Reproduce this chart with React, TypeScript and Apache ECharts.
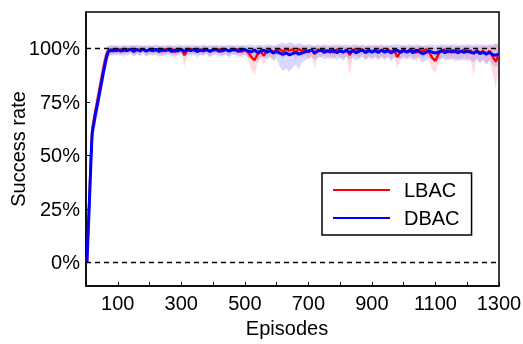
import React, { useEffect, useRef } from "react";
import * as echarts from "echarts";

const episodes = [
  3, 6, 9, 12, 15, 18, 20, 25, 30, 35, 40, 45, 50, 55, 60, 65, 70, 75, 80, 85, 90, 95, 100,
  110, 120, 130, 140, 150, 160, 170, 180, 190, 200,
  210, 220, 230, 240, 250, 260, 270, 280, 290, 300,
  310, 320, 330, 340, 350, 360, 370, 380, 390, 400,
  410, 420, 430, 440, 450, 460, 470, 480, 490, 500,
  510, 520, 530, 540, 550, 560, 570, 580, 590, 600,
  610, 620, 630, 640, 650, 660, 670, 680, 690, 700,
  710, 720, 730, 740, 750, 760, 770, 780, 790, 800,
  810, 820, 830, 840, 850, 860, 870, 880, 890, 900,
  910, 920, 930, 940, 950, 960, 970, 980, 990, 1000,
  1010, 1020, 1030, 1040, 1050, 1060, 1070, 1080, 1090, 1100,
  1110, 1120, 1130, 1140, 1150, 1160, 1170, 1180, 1190, 1200,
  1210, 1220, 1230, 1240, 1250, 1260, 1270, 1280, 1290, 1300,
];

const lbacMean = [
  0, 12, 24, 36, 48, 58, 63, 67, 71, 75, 79, 83, 87, 91, 94.5, 97.5, 99.0, 99.5, 98.8, 99.6, 99.0, 99.6, 99.1,
  99.6, 98.7, 99.5, 99.8, 98.9, 99.6, 99.2, 99.7, 98.8, 99.5,
  99.7, 98.9, 99.6, 98.6, 99.7, 99.1, 99.6, 98.3, 99.5, 99.7,
  96.8, 99.4, 99.7, 98.9, 99.6, 99.0, 99.7, 99.4, 98.7, 99.6,
  99.2, 99.7, 98.6, 99.5, 98.9, 99.7, 99.1, 99.6, 98.4, 99.4,
  98.2, 96.0, 94.5, 97.2, 98.5, 96.6, 99.0, 99.4, 98.2, 99.5,
  99.6, 98.5, 99.7, 98.9, 99.6, 98.2, 99.7, 98.8, 99.5, 98.2,
  99.4, 97.3, 99.6, 98.8, 99.7, 98.4, 99.5, 98.0, 99.6, 98.8,
  98.1, 99.6, 96.9, 99.3, 99.7, 98.6, 99.6, 98.3, 99.5, 98.5,
  99.6, 98.5, 99.4, 98.1, 99.6, 98.4, 99.3, 96.0, 98.7, 99.5,
  98.3, 99.6, 98.8, 98.0, 99.5, 98.6, 99.6, 98.2, 95.6, 94.2,
  97.5, 98.9, 99.5, 98.2, 99.4, 98.0, 99.3, 98.4, 99.5, 98.1,
  99.1, 97.6, 99.2, 98.0, 98.9, 97.3, 98.8, 96.2, 93.8, 97.6,
];

const lbacLower = [
  -3, 8, 19, 31, 43, 53, 58, 62, 66, 70, 74, 78, 82, 86, 90, 94, 97, 97.5, 96.8, 97.4, 96.9, 97.5, 97.0,
  97.5, 95.8, 97.8, 98.0, 96.8, 97.6, 96.9, 97.9, 96.5, 97.2,
  97.8, 96.2, 97.6, 95.8, 97.9, 96.8, 97.5, 94.8, 97.6, 97.8,
  91.5, 97.1, 97.5, 96.4, 97.8, 96.6, 97.4, 97.7, 95.8, 97.5,
  97.0, 97.8, 95.9, 97.4, 96.3, 97.7, 96.8, 97.5, 95.5, 97.1,
  95.0, 90.0, 88.0, 92.5, 95.5, 92.0, 96.0, 96.5, 94.6, 96.8,
  97.0, 95.2, 97.2, 95.8, 97.0, 94.5, 97.1, 95.6, 96.9, 94.8,
  96.5, 90.5, 96.9, 95.6, 97.2, 95.0, 96.6, 94.2, 96.9, 95.4,
  94.0, 96.9, 87.5, 96.0, 96.8, 95.0, 97.1, 94.6, 96.5, 95.0,
  96.8, 95.0, 96.5, 94.2, 96.9, 94.8, 96.2, 90.5, 95.2, 96.5,
  94.6, 96.8, 95.4, 93.8, 96.5, 95.0, 96.9, 94.2, 90.0, 88.5,
  93.0, 95.2, 96.4, 94.0, 96.0, 93.4, 95.8, 94.4, 96.3, 93.8,
  95.5, 86.5, 95.6, 93.4, 95.2, 92.0, 94.8, 88.0, 81.5, 91.5,
];

const lbacUpper = [
  2, 16, 29, 41, 53, 63, 68, 72, 76, 80, 84, 88, 92, 96, 98.5, 100.5, 101.2, 101.0, 101.2, 100.9, 101.1, 100.9, 101.0,
  100.9, 101.2, 100.8, 101.0, 101.3, 100.9, 101.1, 100.8, 101.2, 100.9,
  101.1, 100.8, 101.3, 100.9, 101.0, 101.2, 100.8, 101.1, 100.9, 101.2,
  100.6, 101.0, 101.2, 100.9, 101.1, 100.8, 101.3, 101.0, 100.9, 101.1,
  101.0, 101.2, 100.8, 101.1, 100.9, 101.3, 101.0, 100.8, 101.2, 100.9,
  101.0, 100.5, 100.2, 101.0, 101.2, 100.6, 101.1, 101.3, 100.9, 101.2,
  101.5, 101.0, 101.3, 101.1, 101.6, 100.9, 101.2, 101.4, 101.0, 101.2,
  101.1, 100.8, 101.3, 101.0, 101.2, 101.4, 100.9, 101.1, 101.5, 101.0,
  101.2, 101.0, 100.7, 101.3, 101.1, 101.0, 101.4, 100.9, 101.2, 101.0,
  101.3, 101.0, 101.2, 100.9, 101.1, 101.3, 100.8, 100.6, 101.0, 101.2,
  101.0, 101.3, 100.9, 101.1, 101.2, 101.0, 101.4, 100.9, 100.4, 100.2,
  101.0, 101.2, 100.9, 101.1, 101.3, 100.8, 101.2, 101.0, 101.4, 100.9,
  101.2, 101.0, 101.3, 100.9, 101.2, 101.0, 101.3, 101.5, 102.5, 102.0,
];

const dbacMean = [
  0, 11, 22, 33, 45, 56, 61, 65, 69.5, 73, 77, 81, 85, 89, 92.5, 96, 98.3, 98.9, 99.4, 98.7, 99.5, 98.8, 99.4,
  98.7, 99.5, 98.9, 99.6, 98.6, 99.4, 98.8, 99.6, 98.7, 99.4,
  98.8, 99.6, 98.6, 99.4, 98.9, 99.6, 98.5, 99.3, 98.8, 99.5,
  98.6, 99.4, 98.9, 99.6, 98.5, 99.3, 98.8, 99.4, 98.6, 99.2,
  99.5, 98.6, 99.1, 99.5, 98.7, 99.2, 99.5, 98.6, 99.2, 99.5,
  98.7, 98.3, 99.3, 98.0, 98.8, 99.1, 98.2, 98.9, 97.9, 98.6,
  97.8, 97.2, 97.9, 97.0, 97.6, 98.2, 97.3, 97.9, 98.4, 98.8,
  99.1, 98.0, 98.8, 99.2, 98.1, 98.9, 98.3, 99.1, 98.0, 98.9,
  98.3, 99.1, 98.1, 99.0, 97.9, 98.8, 99.2, 98.0, 99.0, 98.3,
  99.0, 98.1, 99.2, 98.3, 99.0, 97.9, 98.8, 99.1, 98.1, 99.0,
  98.3, 99.0, 98.0, 99.2, 98.3, 97.5, 98.1, 98.9, 98.2, 97.8,
  98.3, 99.0, 98.0, 98.9, 98.2, 99.0, 97.9, 98.7, 98.1, 98.9,
  98.2, 97.8, 98.7, 97.6, 98.3, 97.3, 98.2, 97.1, 96.8, 97.5,
];

const dbacLower = [
  -2, 7, 18, 29, 41, 51, 56, 60, 64.5, 68, 72, 76, 80, 84, 88, 92, 95.5, 96.5, 97.0, 96.3, 97.2, 96.5, 97.1,
  96.5, 97.6, 96.4, 97.5, 96.0, 97.3, 96.4, 97.6, 96.2, 97.2,
  96.4, 97.5, 96.0, 97.2, 96.5, 97.6, 96.0, 97.1, 96.4, 97.4,
  96.0, 97.2, 96.4, 97.5, 95.8, 97.1, 96.5, 97.3, 96.0, 96.9,
  97.1, 96.0, 96.8, 97.2, 95.8, 96.9, 97.1, 96.0, 96.8, 97.0,
  96.0, 95.2, 96.6, 94.6, 95.8, 96.2, 94.8, 95.7, 94.2, 95.3,
  91.5, 89.5, 90.5, 89.0, 91.0, 92.5, 90.0, 93.5, 94.5, 95.5,
  96.0, 94.6, 95.6, 96.1, 94.8, 95.9, 95.0, 96.0, 94.6, 95.8,
  95.0, 96.0, 94.8, 95.7, 94.3, 95.5, 96.0, 94.6, 95.8, 95.0,
  95.7, 94.6, 96.0, 95.0, 95.6, 94.0, 95.4, 96.0, 94.7, 95.7,
  95.0, 95.6, 94.4, 96.0, 95.0, 93.2, 94.4, 95.4, 94.6, 93.8,
  95.0, 95.6, 94.2, 95.3, 94.6, 95.5, 94.0, 95.0, 94.3, 95.2,
  94.4, 93.6, 94.9, 93.0, 94.5, 92.6, 94.2, 92.3, 91.3, 92.8,
];

const dbacUpper = [
  1.5, 15, 26, 37, 49, 60, 65.5, 70, 74, 78, 82, 86, 90, 94, 97, 99.8, 101.0, 101.5, 101.6, 101.3, 101.7, 101.4, 101.6,
  101.4, 101.7, 101.3, 101.6, 101.5, 101.8, 101.3, 101.6, 101.4, 101.7,
  101.5, 101.8, 101.3, 101.6, 101.4, 101.7, 101.5, 101.3, 101.8, 101.5,
  101.3, 101.7, 101.4, 101.6, 101.5, 101.3, 101.8, 101.4, 101.6, 101.5,
  101.7, 101.4, 101.6, 101.3, 101.8, 101.5, 101.4, 101.7, 101.5, 101.6,
  101.5, 101.8, 101.4, 101.6, 101.7, 101.5, 101.9, 101.6, 101.4, 101.7,
  102.2, 102.8, 102.0, 103.0, 102.4, 101.9, 102.6, 101.8, 101.6, 101.9,
  101.7, 101.5, 101.8, 101.6, 101.9, 101.5, 101.7, 101.8, 101.6, 101.9,
  101.6, 101.8, 101.5, 101.7, 101.9, 101.6, 101.8, 101.5, 101.7, 101.6,
  101.8, 101.6, 101.9, 101.5, 101.7, 101.6, 101.8, 101.9, 101.6, 101.7,
  101.6, 101.8, 101.5, 101.9, 101.7, 101.4, 101.6, 101.8, 101.7, 101.5,
  101.7, 101.9, 101.6, 101.8, 101.7, 101.9, 101.6, 101.8, 101.7, 101.9,
  101.8, 101.6, 101.9, 101.7, 101.8, 101.6, 101.9, 101.7, 102.2, 101.8,
];

const yTickValues = [0, 25, 50, 75, 100];
const refLines = [0, 100];

const pairs = (ys: number[]) => episodes.map((x, i) => [x, ys[i]]);
const triples = (lo: number[], hi: number[]) => episodes.map((x, i) => [x, lo[i], hi[i]]);

const FONT = "'Liberation Sans', Arial, sans-serif";

function bandSeries(name: string, lo: number[], hi: number[], color: string) {
  return {
    type: "custom",
    name,
    silent: true,
    clip: true,
    z: 1,
    data: triples(lo, hi),
    encode: { x: 0, y: [1, 2] },
    renderItem: (params: any, api: any) => {
      if (params.dataIndex !== 0) return null;
      const top: number[][] = [];
      const bottom: number[][] = [];
      for (let i = 0; i < episodes.length; i++) {
        top.push(api.coord([episodes[i], hi[i]]));
        bottom.push(api.coord([episodes[i], lo[i]]));
      }
      const points = top.concat(bottom.reverse());
      return {
        type: "polygon",
        shape: { points },
        style: { fill: color, stroke: "none" },
      };
    },
  };
}

export default function App() {
  const ref = useRef<HTMLDivElement>(null);
  useEffect(() => {
    if (!ref.current) return;
    const chart = echarts.init(ref.current, undefined, { renderer: "svg" });
    chart.setOption({
      animation: false,
      textStyle: { fontFamily: FONT },
      grid: {
        left: 86,
        right: 24,
        top: 12,
        bottom: 58,
        show: true,
        borderColor: "#000",
        borderWidth: 1.5,
        containLabel: false,
        outerBoundsMode: "none",
      },
      legend: {
        data: [
          { name: "LBAC", icon: "rect" },
          { name: "DBAC", icon: "rect" },
        ],
        orient: "vertical",
        left: 322,
        top: 173,
        padding: [5, 12, 5, 11],
        itemWidth: 57,
        itemHeight: 2,
        itemGap: 4,
        borderColor: "#000",
        borderWidth: 1.5,
        backgroundColor: "#fff",
        textStyle: {
          fontSize: 20,
          lineHeight: 24,
          color: "#000",
          fontFamily: FONT,
          padding: [0, 0, 0, 9],
        },
      },
      xAxis: {
        type: "value",
        min: 0,
        max: 1300,
        interval: 100,
        name: "Episodes",
        nameLocation: "middle",
        nameGap: 32,
        nameMoveOverlap: false,
        nameTextStyle: { fontSize: 20, color: "#000", fontFamily: FONT, padding: [0, 11, 0, 0] },
        axisLine: { onZero: false, lineStyle: { color: "#000", width: 1.5 } },
        axisTick: { inside: true, length: 4, lineStyle: { color: "#000", width: 1 } },
        axisLabel: {
          fontSize: 20,
          color: "#000",
          margin: 7,
          fontFamily: FONT,
          formatter: (v: number) => (v % 200 === 100 ? String(v) : ""),
        },
        splitLine: { show: false },
      },
      yAxis: {
        type: "value",
        min: -11,
        max: 117,
        name: "Success rate",
        nameLocation: "middle",
        nameGap: 58,
        nameMoveOverlap: false,
        nameTextStyle: { fontSize: 20, color: "#000", fontFamily: FONT },
        axisLine: { show: true, lineStyle: { color: "#000", width: 1.5 } },
        axisTick: {
          show: true,
          inside: true,
          length: 4,
          customValues: yTickValues,
          lineStyle: { color: "#000", width: 1 },
        },
        axisLabel: {
          fontSize: 20,
          color: "#000",
          margin: 6,
          fontFamily: FONT,
          customValues: yTickValues,
          formatter: (v: number) => `${v}%`,
        },
        splitLine: { show: false },
      },
      series: [
        bandSeries("lbacBand", lbacLower, lbacUpper, "rgba(255,0,0,0.14)"),
        bandSeries("dbacBand", dbacLower, dbacUpper, "rgba(40,40,255,0.18)"),
        {
          type: "line",
          name: "LBAC",
          symbol: "none",
          data: pairs(lbacMean),
          lineStyle: { color: "#ff0000", width: 2.4 },
          itemStyle: { color: "#ff0000" },
          z: 3,
        },
        {
          type: "line",
          name: "DBAC",
          symbol: "none",
          data: pairs(dbacMean),
          lineStyle: { color: "#0000ff", width: 3 },
          itemStyle: { color: "#0000ff" },
          z: 4,
        },
        {
          type: "line",
          name: "ref",
          data: [],
          z: 5,
          markLine: {
            silent: true,
            symbol: "none",
            label: { show: false },
            lineStyle: { color: "#000", type: [5, 4], width: 1.3 },
            data: refLines.map((v) => ({ yAxis: v })),
          },
        },
      ],
    });
    return () => chart.dispose();
  }, []);
  return (
    <div
      ref={ref}
      style={{ position: "fixed", left: 0, top: 0, width: 523, height: 344 }}
    />
  );
}
